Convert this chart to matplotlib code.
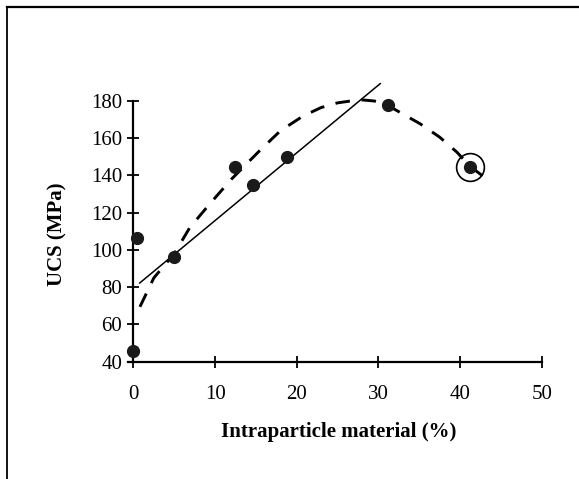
import matplotlib
matplotlib.use("Agg")
import matplotlib.pyplot as plt
from matplotlib.lines import Line2D

# Measured data points
x_pts = [0.0, 0.5, 5.0, 12.4, 14.7, 18.8, 31.2, 41.2]
y_pts = [45.5, 106.5, 96.0, 144.5, 134.8, 150.0, 178.0, 144.5]

# Circled (highlighted) point
x_circ = [41.2]
y_circ = [144.5]

# Linear fit line (end points)
x_lin = [0.7, 30.3]
y_lin = [82.0, 189.6]

# Dashed trend curve
x_curve = [0.8, 2.5, 5.0, 6.9, 9.4, 12.0, 15.5, 18.0, 20.8, 23.0, 25.0, 27.7,
           29.5, 31.0, 32.6, 35.1, 37.5, 39.6, 41.2, 43.3]
y_curve = [69.5, 85.0, 98.0, 112.0, 125.0, 138.0, 153.5, 164.0, 172.0, 176.5,
           179.0, 180.7, 180.0, 178.0, 174.0, 167.8, 160.6, 152.6, 145.0, 138.0]

x_ticks = [0, 10, 20, 30, 40, 50]
y_ticks = [40, 60, 80, 100, 120, 140, 160, 180]

serif = ["Liberation Serif", "DejaVu Serif"]

W, H = 579, 479
fig = plt.figure(figsize=(W / 100, H / 100), dpi=100)
ax = fig.add_axes([127.7 / W, (H - 361.7) / H, (541.7 - 127.7) / W, (361.7 - 101) / H])
ax.set_xlim(-0.7, 50)
ax.set_ylim(40, 180)
ax.patch.set_visible(False)

ax.spines["top"].set_visible(False)
ax.spines["right"].set_visible(False)
ax.spines["left"].set_position(("data", 0))
for s in ("left", "bottom"):
    ax.spines[s].set_linewidth(1.6)

ax.set_xticks(x_ticks)
ax.set_yticks(y_ticks)
ax.tick_params(axis="both", direction="inout", length=8, width=1.3,
               labelsize=15)
ax.tick_params(axis="x", pad=13)
ax.tick_params(axis="y", pad=4)
for lab in ax.get_xticklabels() + ax.get_yticklabels():
    lab.set_family(serif)

ax.plot(x_lin, y_lin, color="black", lw=1.1, solid_capstyle="butt", clip_on=False)
ax.plot(x_curve, y_curve, color="black", lw=2.1, linestyle=(0, (5, 4)),
        clip_on=False)
ax.plot(x_pts, y_pts, linestyle="none", marker="o", markersize=8.5,
        color="#1a1a1a", clip_on=False, zorder=5)
ax.plot(x_circ, y_circ, linestyle="none", marker="o", markersize=20,
        markerfacecolor="none", markeredgecolor="black", markeredgewidth=1.2,
        clip_on=False, zorder=6)

fig.text(339 / W, 1 - 432 / H, "Intraparticle material (%)", ha="center",
         va="center", fontsize=15, fontweight="bold", family=serif)
fig.text(57 / W, 1 - 234 / H, "UCS (MPa)", ha="center", va="center",
         rotation=90, fontsize=15, fontweight="bold", family=serif)

# Frame lines (top and left) of the scanned figure
fig.add_artist(Line2D([7 / W, 1.0], [1 - 7 / H, 1 - 7 / H], color="black",
                      lw=1.6, transform=fig.transFigure))
fig.add_artist(Line2D([7 / W, 7 / W], [1 - 7 / H, 0.0], color="black",
                      lw=1.3, transform=fig.transFigure))

fig.savefig("out.png", dpi=100)
